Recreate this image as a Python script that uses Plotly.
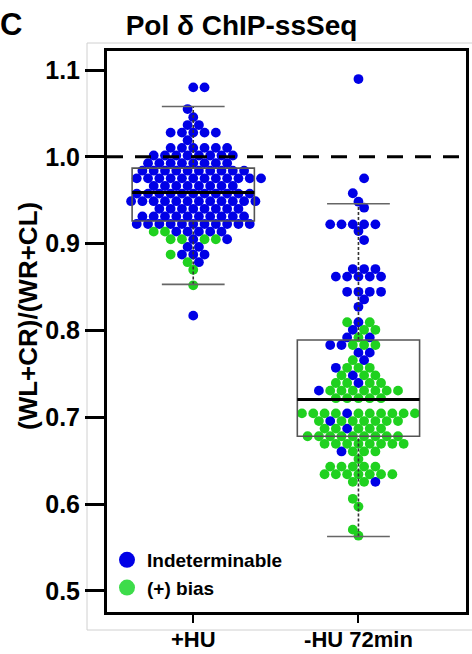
import plotly.graph_objects as go

# ---------------- data ----------------
categories = ["+HU", "-HU 72min"]

# +HU : value levels (top to bottom) and classes of the points at each level
# I = Indeterminable, B = (+) bias  (left-to-right order)
plus_hu_levels = [1.080, 1.055, 1.0457, 1.0366, 1.0279, 1.0191, 1.0103, 1.0015,
                  0.9927, 0.9840, 0.9752, 0.9664, 0.9576, 0.9489, 0.9401, 0.9313,
                  0.9226, 0.9138, 0.9050, 0.8962, 0.8874, 0.8786, 0.8699, 0.852, 0.817]
plus_hu_classes = ["II", "I", "I", "II", "IIIII", "I", "IIIIII", "IIIIIIII",
                   "IIIIIIII", "IIIIIIIIII", "IIIIIIIIIIII", "IIIIIIII", "IIIIIIIIIII",
                   "IIIIIIIIIIII", "IIIIIIII", "IIIIIIIIII", "IIIIIIIIIII", "BBIIIII",
                   "BBIBBI", "II", "BIII", "BI", "B", "B", "I"]

# -HU 72min
minus_hu_levels = [1.0896, 0.9752, 0.958, 0.9483, 0.9414, 0.9222, 0.9145, 0.9041,
                   0.8707, 0.8620, 0.8445, 0.8357, 0.8272, 0.8094, 0.8007, 0.7919,
                   0.7832, 0.7744, 0.7657, 0.7569, 0.7482, 0.7394, 0.7306, 0.7219,
                   0.7044, 0.6956, 0.6869, 0.6781, 0.6694, 0.6606, 0.6518, 0.6431,
                   0.6343, 0.6256, 0.606, 0.597, 0.5705, 0.5635]
minus_hu_classes = ["I", "I", "I", "I", "I", "IIIII", "I", "I",
                    "III", "IIIII", "IIII", "I", "I", "BIB", "IBB", "IBI",
                    "IIBBB", "II", "BI", "IBBB", "BIBB", "BBIBB", "IBBBBBBB", "BBBBB",
                    "BBBBIBBBBBB", "BIBBBBBB", "BBIBBB", "BBBBBBBBB", "BBBBBBBB", "IBBB", "B", "BBBBB",
                    "BBBBBBB", "BBI", "B", "B", "B", "B"]

# box-plot statistics per category
box_q1 = [0.926, 0.678]
box_median = [0.959, 0.7205]
box_q3 = [0.987, 0.789]
whisker_low = [0.853, 0.5625]
whisker_high = [1.058, 0.946]

reference_value = 1.0
y_ticks = [0.5, 0.6, 0.7, 0.8, 0.9, 1.0, 1.1]

# ---------------- layout geometry ----------------
W, H_FIG = 472, 654
M_L, M_R, M_T, M_B = 107, 6, 51, 42
X_RANGE = [-0.522, 1.651]
Y_RANGE = [0.4756, 1.1219]
PX_X = (W - M_L - M_R) / (X_RANGE[1] - X_RANGE[0])
PX_Y = (H_FIG - M_T - M_B) / (Y_RANGE[1] - Y_RANGE[0])

DOT_W = 11.3     # horizontal spacing of dots (px)
ROW_STEP = 7.62  # vertical spacing of dot rows (px)

BLUE = "#0000e6"
GREEN = "#1fd11f"


def beeswarm(levels, classes):
    """hexagonal beeswarm: each level is a row, alternate rows offset by half a dot"""
    top = max(levels)
    xs, ys, cs = [], [], []
    for v, s in zip(levels, classes):
        ri = int(round((top - v) * PX_Y / ROW_STEP))
        shift = 0.5 if ri % 2 else 0.0
        bias = 1 if (ri // 2) % 2 else -1
        lattice = sorted(range(-20, 21),
                         key=lambda j: (abs(j + shift), bias * (j + shift)))
        pos = sorted((j + shift) * DOT_W for j in lattice[:len(s)])
        for p, cl in zip(pos, s):
            xs.append(p / PX_X)
            ys.append(v)
            cs.append(cl)
    return xs, ys, cs


fig = go.Figure()

for i, (lv, cl) in enumerate([(plus_hu_levels, plus_hu_classes),
                              (minus_hu_levels, minus_hu_classes)]):
    xs, ys, cs = beeswarm(lv, cl)
    for code, color in (("I", BLUE), ("B", GREEN)):
        px_ = [i + x for x, c in zip(xs, cs) if c == code]
        py_ = [y for y, c in zip(ys, cs) if c == code]
        fig.add_trace(go.Scatter(x=px_, y=py_, mode="markers",
                                 marker=dict(size=9.8, color=color, line=dict(width=0)),
                                 showlegend=False, hoverinfo="y"))

# legend entries
fig.add_trace(go.Scatter(x=[None], y=[None], mode="markers", name="Indeterminable",
                         marker=dict(size=16, color=BLUE), legendgroup="a"))
fig.add_trace(go.Scatter(x=[None], y=[None], mode="markers", name="(+) bias",
                         marker=dict(size=16, color="#3ddc4a"), legendgroup="b"))

shapes = []
BOX_HALF = 0.37
CAP_HALF = 0.19
for i in range(len(categories)):
    shapes.append(dict(type="line", x0=i, x1=i, y0=box_q3[i], y1=whisker_high[i],
                       line=dict(color="#333333", width=1.6, dash="3px,2px")))
    shapes.append(dict(type="line", x0=i, x1=i, y0=whisker_low[i], y1=box_q1[i],
                       line=dict(color="#333333", width=1.6, dash="3px,2px")))
    for yv in (whisker_low[i], whisker_high[i]):
        shapes.append(dict(type="line", x0=i - CAP_HALF, x1=i + CAP_HALF, y0=yv, y1=yv,
                           line=dict(color="#666666", width=1.6)))
    shapes.append(dict(type="rect", x0=i - BOX_HALF, x1=i + BOX_HALF,
                       y0=box_q1[i], y1=box_q3[i],
                       line=dict(color="#555555", width=1.6)))
    shapes.append(dict(type="line", x0=i - BOX_HALF, x1=i + BOX_HALF,
                       y0=box_median[i], y1=box_median[i],
                       line=dict(color="black", width=3)))

shapes.append(dict(type="line", xref="paper", x0=0, x1=1, y0=reference_value,
                   y1=reference_value, line=dict(color="black", width=3, dash="16px,12px")))

# faint outer frame of the original figure
pw = W - M_L - M_R
ph = H_FIG - M_T - M_B
shapes.append(dict(type="rect", xref="paper", yref="paper",
                   x0=(87 - M_L) / pw, x1=(475 - M_L) / pw,
                   y0=(H_FIG - M_B - 630) / ph, y1=(H_FIG - M_B - 43) / ph,
                   line=dict(color="#d0d0d0", width=1), layer="below"))

FONT = "Arial, Liberation Sans, sans-serif"

fig.update_layout(
    width=W, height=H_FIG,
    margin=dict(l=M_L, r=M_R, t=M_T, b=M_B, autoexpand=False),
    paper_bgcolor="white", plot_bgcolor="white",
    font=dict(family=FONT, color="black"),
    shapes=shapes,
    title=dict(text="Pol δ ChIP-ssSeq", x=241.5 / W, xanchor="center",
               y=1 - 25 / H_FIG, yanchor="middle",
               font=dict(size=28, weight="bold", family=FONT)),
    showlegend=True,
    legend=dict(x=0.0, xanchor="left", y=(H_FIG - M_B - 541) / ph, yanchor="top",
                bgcolor="rgba(0,0,0,0)", font=dict(size=19, weight="bold", family=FONT),
                tracegroupgap=0, itemsizing="trace"),
    xaxis=dict(range=X_RANGE, tickmode="array", tickvals=[0, 1], ticktext=categories,
               ticks="outside", ticklen=8, tickwidth=2, tickcolor="black",
               ticklabelstandoff=-2, automargin=False,
               showline=True, mirror=True, linewidth=3, linecolor="black",
               showgrid=False, zeroline=False,
               tickfont=dict(size=22, weight="bold", family=FONT)),
    yaxis=dict(range=Y_RANGE, tickmode="array", tickvals=y_ticks,
               ticktext=[f"{v:.1f}" for v in y_ticks],
               ticks="outside", ticklen=19, tickwidth=2.5, tickcolor="black",
               automargin=False,
               showline=True, mirror=True, linewidth=3, linecolor="black",
               showgrid=False, zeroline=False,
               tickfont=dict(size=25, weight="bold", family=FONT)),
    annotations=[dict(text="C", xref="paper", yref="paper",
                      x=(11 - M_L) / pw, y=(H_FIG - M_B - 25) / ph,
                      xanchor="center", yanchor="middle", showarrow=False,
                      font=dict(size=31, weight="bold", family=FONT)),
                 dict(text="(WL+CR)/(WR+CL)", xref="paper", yref="paper",
                      x=(28 - M_L) / pw, y=(H_FIG - M_B - 316) / ph,
                      xanchor="center", yanchor="middle", textangle=-90,
                      showarrow=False,
                      font=dict(size=26, weight="bold", family=FONT))],
)

fig.write_html("out.html", config={"displayModeBar": False},
               post_script="document.body.style.margin='0';document.body.style.overflow='hidden';")
